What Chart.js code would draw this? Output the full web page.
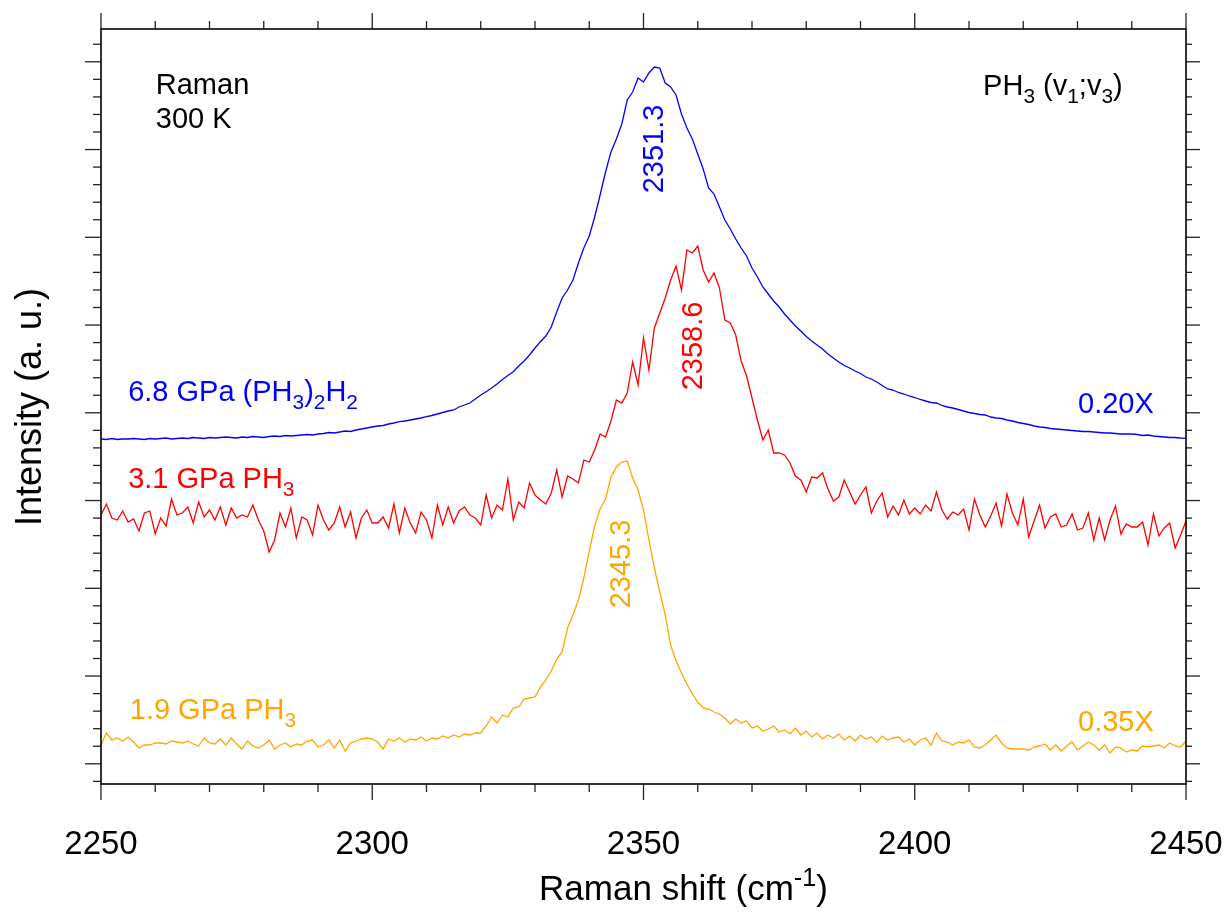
<!DOCTYPE html>
<html>
<head>
<meta charset="utf-8">
<title>PH3 Raman</title>
<script src="https://cdn.jsdelivr.net/npm/chart.js@4.4.0/dist/chart.umd.min.js"></script>
<style>
  html, body { margin: 0; padding: 0; background: #fff; }
  #wrap { width: 1228px; height: 919px; }
</style>
</head>
<body>
<div id="wrap"><canvas id="myChart"></canvas></div>
<script>
// Raman shift (cm-1), one point per wavenumber
var shift = [
  2250, 2251, 2252, 2253, 2254, 2255, 2256, 2257, 2258, 2259,
  2260, 2261, 2262, 2263, 2264, 2265, 2266, 2267, 2268, 2269,
  2270, 2271, 2272, 2273, 2274, 2275, 2276, 2277, 2278, 2279,
  2280, 2281, 2282, 2283, 2284, 2285, 2286, 2287, 2288, 2289,
  2290, 2291, 2292, 2293, 2294, 2295, 2296, 2297, 2298, 2299,
  2300, 2301, 2302, 2303, 2304, 2305, 2306, 2307, 2308, 2309,
  2310, 2311, 2312, 2313, 2314, 2315, 2316, 2317, 2318, 2319,
  2320, 2321, 2322, 2323, 2324, 2325, 2326, 2327, 2328, 2329,
  2330, 2331, 2332, 2333, 2334, 2335, 2336, 2337, 2338, 2339,
  2340, 2341, 2342, 2343, 2344, 2345, 2346, 2347, 2348, 2349,
  2350, 2351, 2352, 2353, 2354, 2355, 2356, 2357, 2358, 2359,
  2360, 2361, 2362, 2363, 2364, 2365, 2366, 2367, 2368, 2369,
  2370, 2371, 2372, 2373, 2374, 2375, 2376, 2377, 2378, 2379,
  2380, 2381, 2382, 2383, 2384, 2385, 2386, 2387, 2388, 2389,
  2390, 2391, 2392, 2393, 2394, 2395, 2396, 2397, 2398, 2399,
  2400, 2401, 2402, 2403, 2404, 2405, 2406, 2407, 2408, 2409,
  2410, 2411, 2412, 2413, 2414, 2415, 2416, 2417, 2418, 2419,
  2420, 2421, 2422, 2423, 2424, 2425, 2426, 2427, 2428, 2429,
  2430, 2431, 2432, 2433, 2434, 2435, 2436, 2437, 2438, 2439,
  2440, 2441, 2442, 2443, 2444, 2445, 2446, 2447, 2448, 2449,
  2450
];

// 6.8 GPa (PH3)2H2, scaled 0.20X and offset
var blue68 = [
  345, 344.5, 345.5, 344.5, 345, 345, 345.5, 345, 344.5, 345.5,
  345, 345.5, 346, 345, 345.5, 346, 345.5, 346.5, 346, 345.5,
  346.5, 346, 346.5, 347, 346.5, 346, 347, 346.5, 347.5, 347,
  346.5, 347.5, 348, 347.5, 348.5, 348, 348.5, 349, 349.5, 349,
  350, 350.5, 351.5, 351, 352, 353, 352.5, 354, 355, 356,
  357, 358, 358.5, 360, 361, 362.3, 363, 364, 365, 366,
  367.3, 368.5, 370, 371.5, 373, 374, 377, 379, 381, 385,
  389, 392.3, 396, 400, 404.5, 408.5, 412.3, 418, 423, 429,
  436, 442.3, 448, 457, 472, 486, 494, 504, 521, 536,
  548, 567, 589, 612, 632, 645, 660, 684, 692, 706,
  702, 711, 717, 716, 701, 697, 689, 670, 656, 645,
  630, 615, 596, 590, 577, 564, 555, 545, 536, 528,
  516, 507, 497, 490, 483, 477, 470, 464, 458, 453,
  447.5, 443, 439, 435, 430, 426, 422, 418.5, 416, 413,
  410.5, 407, 405, 402, 398.5, 395, 394, 391.5, 390, 388,
  386.5, 384.5, 383, 381.5, 381, 378.5, 377, 376, 374.5, 373,
  371.5, 370.5, 369.5, 369, 367, 366, 365.5, 364, 363, 361.5,
  360.5, 359.5, 358, 357, 356.5, 355.5, 355, 354.5, 354, 353.5,
  353, 352.5, 352.5, 352, 351.5, 351, 351, 350.5, 350, 350,
  350, 349.5, 348.5, 349, 348, 347.5, 347, 346.5, 346.5, 346,
  345.7
];

// 3.1 GPa PH3
var red31 = [
  269, 280, 266, 264, 273, 262, 265, 253, 271, 273,
  250, 266, 258, 285, 269, 271, 277, 261, 282, 267,
  274, 264, 277, 259, 276, 266, 269, 267, 279, 264,
  253, 232, 244, 271, 257, 276, 246, 267, 264, 249,
  279, 264, 254, 261, 277, 257, 272, 246, 266, 274,
  261, 261, 267, 256, 280, 251, 276, 261, 251, 272,
  264, 246, 279, 259, 277, 261, 273, 277, 269, 266,
  259, 289, 266, 279, 274, 305, 264, 282, 276, 301,
  289, 284, 280, 291, 314, 287, 308, 305, 301, 324,
  322, 334, 350, 347, 363, 384, 381, 391, 422, 399,
  446, 414, 456, 471, 486, 504, 518, 494, 534, 531,
  538, 514, 502, 511, 496, 464, 461, 449, 423, 408,
  386, 364, 344, 354, 331, 331, 329, 321, 308, 304,
  292, 307, 306, 311, 295, 283, 287, 304, 292, 280,
  289, 297, 271, 283, 291, 267, 278, 269, 284, 270,
  276, 270, 279, 273, 292, 274, 265, 272, 269, 275,
  254, 285, 269, 257, 268, 281, 258, 290, 271, 259,
  285, 247, 263, 279, 256, 267, 270, 257, 259, 270,
  254, 256, 271, 244, 266, 244, 264, 278, 250, 260,
  257, 257, 262, 239, 270, 248, 256, 261, 236, 249,
  263
];

// 1.9 GPa PH3, scaled 0.35X
var orange19 = [
  39, 51, 44, 46, 43, 47, 42, 36, 39, 39,
  41, 41, 40, 43, 42, 41, 43, 40, 38, 46,
  41, 40, 45, 39, 46, 40, 35, 43, 38, 36,
  39, 44, 35, 39, 41, 37, 40, 39, 43, 44,
  37, 39, 44, 36, 44, 33, 41, 43, 45, 46,
  45, 42, 35, 45, 43, 46, 42, 45, 44, 47,
  43, 46, 45, 48, 46, 49, 47, 50, 49, 51,
  51, 58, 67, 61, 69, 67, 76, 77, 85, 86,
  87, 97, 104, 113, 125, 132, 156, 169, 184, 206,
  233, 258, 275, 285, 307, 317, 322, 323, 306, 294,
  274, 244, 216, 192, 169, 139, 123, 111, 100, 90,
  82, 76, 75, 72, 70, 66, 60, 65, 61, 63,
  56, 58, 53, 55, 58, 52, 54, 50, 56, 49,
  53, 47, 51, 45, 49, 46, 50, 44, 48, 43,
  49, 45, 47, 42, 48, 44, 46, 47, 42, 45,
  39, 44, 46, 39, 51, 43, 42, 39, 42, 41,
  44, 37, 36, 39, 44, 49, 41, 36, 35, 35,
  35, 34, 37, 38, 40, 34, 39, 33, 38, 42,
  34, 38, 42, 39, 34, 39, 31, 37, 36, 32,
  34, 33, 38, 37, 38, 39, 36, 41, 38, 37,
  43
];

var xTicks = [2250, 2300, 2350, 2400, 2450];
var xMinorStep = 10;
var yTickStart = 2.65;   // first minor tick (a.u.)
var yMinorStep = 17.55;  // every 5th is a major tick

var BLUE = '#0000ff', RED = '#ff0000', ORANGE = '#ffa500';
var FONT = "Arial, 'Liberation Sans', Helvetica, sans-serif";

// annotation texts: [parts, x (cm-1), y (a.u.), color]
var notes = [
  [[['Raman']], 2260.1, 690, '#000'],
  [[['300 K']], 2260.1, 656, '#000'],
  [[['PH'], ['3', 'sub'], [' (v'], ['1', 'sub'], [';v'], ['3', 'sub'], [')']], 2412.6, 689, '#000'],
  [[['6.8 GPa (PH'], ['3', 'sub'], [')'], ['2', 'sub'], ['H'], ['2', 'sub']], 2255, 383, BLUE],
  [[['3.1 GPa PH'], ['3', 'sub']], 2255, 296, RED],
  [[['1.9 GPa PH'], ['3', 'sub']], 2255.3, 65, ORANGE],
  [[['0.20X']], 2430.1, 371, BLUE],
  [[['0.35X']], 2430.1, 53, ORANGE]
];
// rotated peak positions: [text, x, y, color]
var peaks = [
  ['2351.3', 2353.6, 635, BLUE],
  ['2358.6', 2360.8, 438, RED],
  ['2345.3', 2347.5, 220, ORANGE]
];

function toPoints(ys) {
  return shift.map(function (s, i) { return { x: s, y: ys[i] }; });
}

function richWidth(ctx, parts, size) {
  var w = 0;
  parts.forEach(function (p) {
    ctx.font = (p[1] ? size * 0.72 : size) + 'px ' + FONT;
    w += ctx.measureText(p[0]).width;
  });
  return w;
}

function drawRich(ctx, parts, x, y, size, color) {
  var cx = x;
  ctx.fillStyle = color;
  ctx.textAlign = 'left';
  ctx.textBaseline = 'alphabetic';
  parts.forEach(function (p) {
    var s = p[1] ? size * 0.72 : size;
    var dy = p[1] === 'sub' ? size * 0.27 : (p[1] === 'sup' ? -size * 0.4 : 0);
    ctx.font = s + 'px ' + FONT;
    ctx.fillText(p[0], cx, y + dy);
    cx += ctx.measureText(p[0]).width;
  });
}

var decor = {
  id: 'decor',
  afterDraw: function (chart) {
    var ctx = chart.ctx, a = chart.chartArea;
    var xs = chart.scales.x, ys = chart.scales.y;
    ctx.save();

    function seg(x1, y1, x2, y2) {
      ctx.beginPath(); ctx.moveTo(x1, y1); ctx.lineTo(x2, y2); ctx.stroke();
    }

    ctx.strokeStyle = '#222';
    ctx.lineWidth = 1.3;
    for (var v = xs.min; v <= xs.max + 0.01; v += xMinorStep) {
      var px = xs.getPixelForValue(v);
      var len = (Math.round(v) % 50 === 0) ? 16 : 8;
      seg(px, a.bottom, px, a.bottom + len);
      seg(px, a.top, px, a.top - len);
    }
    for (var k = 0; ; k++) {
      var val = yTickStart + k * yMinorStep;
      if (val > ys.max) break;
      var py = ys.getPixelForValue(val);
      var l2 = (k % 5 === 1) ? 16 : 8;
      seg(a.left, py, a.left - l2, py);
      seg(a.right, py, a.right + l2 - 2, py);
    }

    ctx.strokeStyle = '#000';
    ctx.lineWidth = 1.6;
    ctx.strokeRect(a.left, a.top, a.right - a.left, a.bottom - a.top);

    notes.forEach(function (n) {
      drawRich(ctx, n[0], xs.getPixelForValue(n[1]), ys.getPixelForValue(n[2]), 29, n[3]);
    });

    peaks.forEach(function (p) {
      ctx.save();
      ctx.translate(xs.getPixelForValue(p[1]), ys.getPixelForValue(p[2]));
      ctx.rotate(-Math.PI / 2);
      ctx.font = '29px ' + FONT;
      ctx.fillStyle = p[3];
      ctx.textAlign = 'center';
      ctx.textBaseline = 'alphabetic';
      ctx.fillText(p[0], 0, 0);
      ctx.restore();
    });

    // axis titles
    var xt = [['Raman shift (cm'], ['-1', 'sup'], [')']];
    var wx = richWidth(ctx, xt, 35);
    drawRich(ctx, xt, (a.left + a.right) / 2 + 40 - wx / 2, 900, 35, '#000');

    var yt = [['Intensity (a. u.)']];
    var wy = richWidth(ctx, yt, 36);
    ctx.save();
    ctx.translate(41, 407);
    ctx.rotate(-Math.PI / 2);
    drawRich(ctx, yt, -wy / 2, 0, 36, '#000');
    ctx.restore();

    ctx.restore();
  }
};

new Chart("myChart", {
  type: "line",
  data: {
    datasets: [
      { data: toPoints(blue68), borderColor: BLUE },
      { data: toPoints(red31), borderColor: RED },
      { data: toPoints(orange19), borderColor: ORANGE }
    ]
  },
  options: {
    responsive: true,
    maintainAspectRatio: false,
    animation: false,
    layout: { padding: { top: 29, right: 42, left: 0, bottom: 0 } },
    plugins: { legend: { display: false }, tooltip: { enabled: false } },
    elements: {
      point: { radius: 0 },
      line: { borderWidth: 1.3, tension: 0, fill: false }
    },
    scales: {
      x: {
        type: 'linear', min: 2250, max: 2450,
        afterFit: function (s) { s.height = 135; },
        afterBuildTicks: function (s) { s.ticks = xTicks.map(function (v) { return { value: v }; }); },
        // tick marks are drawn by the decor plugin; the invisible grid ticks only push the labels down
        grid: { display: true, drawOnChartArea: false, drawTicks: true, tickLength: 38, color: 'rgba(0,0,0,0)' },
        border: { display: false },
        ticks: {
          autoSkip: false, maxRotation: 0, padding: 3, color: '#000',
          font: { size: 33, family: FONT },
          callback: function (v) { return String(v); }
        }
      },
      y: {
        min: 0, max: 755,
        afterFit: function (s) { s.width = 101; },
        grid: { display: false, drawTicks: false },
        border: { display: false },
        ticks: { display: false }
      }
    }
  },
  plugins: [decor]
});
</script>
</body>
</html>
